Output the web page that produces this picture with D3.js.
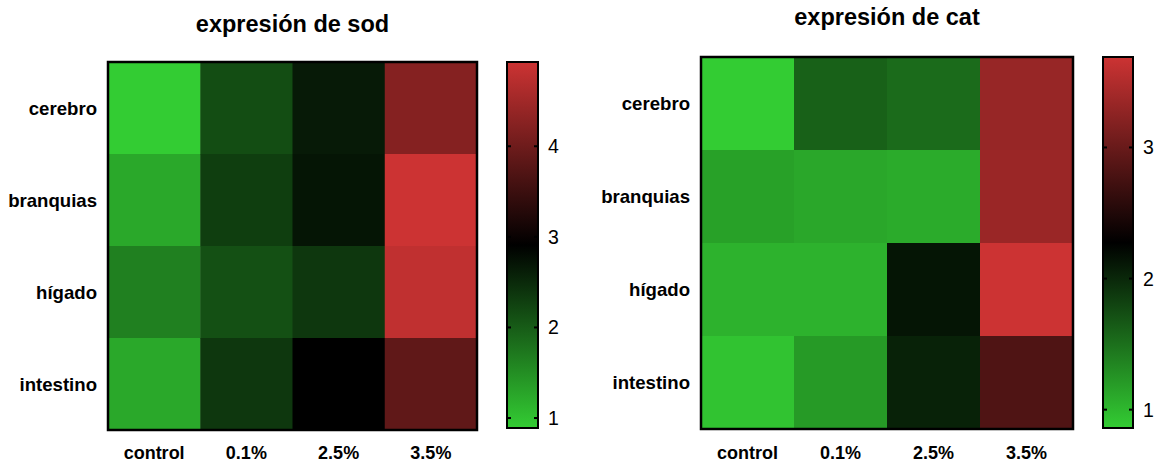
<!DOCTYPE html>
<html>
<head>
<meta charset="utf-8">
<script src="https://cdn.jsdelivr.net/npm/d3@7"></script>
<style>
  html, body { margin: 0; padding: 0; background: #fff; }
  svg { display: block; font-family: "Liberation Sans", Arial, Helvetica, sans-serif; }
</style>
</head>
<body>
<svg id="chart" width="1158" height="464"></svg>
<script>
// Treatments (columns) and tissues (rows)
const categories = ["control", "0.1%", "2.5%", "3.5%"];
const tissues = ["cerebro", "branquias", "hígado", "intestino"];

// Relative expression, one row per tissue
const sodValues = [
  [0.89, 2.15, 2.65, 4.23],
  [1.25, 2.30, 2.70, 4.93],
  [1.64, 2.12, 2.37, 4.81],
  [1.25, 2.37, 2.91, 3.86]
];
const catValues = [
  [0.86, 1.60, 1.53, 3.32],
  [1.16, 1.12, 1.09, 3.34],
  [1.04, 1.04, 2.13, 3.69],
  [0.92, 1.21, 2.04, 2.82]
];

const sodTicks = [1, 2, 3, 4];
const catTicks = [1, 2, 3];

const titles = ["expresión de sod", "expresión de cat"];

const svg = d3.select("#chart");

function drawPanel(opts) {
  const { values, ticks, title, box, bar, titleY } = opts;
  const g = svg.append("g");

  const flat = values.flat();
  const [vmin, vmax] = d3.extent(flat);
  const vmid = (vmin + vmax) / 2;
  const color = d3.scaleLinear()
    .domain([vmin, vmid, vmax])
    .range(["#33cc33", "#000000", "#cc3333"]);

  const x = d3.scaleBand().domain(categories).range([box.x0, box.x1]);
  const y = d3.scaleBand().domain(tissues).range([box.y0, box.y1]);

  const cells = [];
  tissues.forEach((t, i) => categories.forEach((c, j) => cells.push({ t, c, v: values[i][j] })));

  g.selectAll("rect.cell").data(cells).join("rect")
    .attr("class", "cell")
    .attr("x", d => x(d.c))
    .attr("y", d => y(d.t))
    .attr("width", x.bandwidth() + 0.5)
    .attr("height", y.bandwidth() + 0.5)
    .attr("fill", d => color(d.v));

  g.append("rect")
    .attr("x", box.x0).attr("y", box.y0)
    .attr("width", box.x1 - box.x0).attr("height", box.y1 - box.y0)
    .attr("fill", "none").attr("stroke", "#000").attr("stroke-width", 2.5);

  // Row labels
  g.selectAll("text.row").data(tissues).join("text")
    .attr("class", "row")
    .attr("x", box.x0 - 11)
    .attr("y", d => y(d) + y.bandwidth() / 2)
    .attr("text-anchor", "end")
    .attr("dominant-baseline", "central")
    .attr("font-size", 18.6).attr("font-weight", "bold")
    .text(d => d);

  // Column labels
  g.selectAll("text.col").data(categories).join("text")
    .attr("class", "col")
    .attr("x", d => x(d) + x.bandwidth() / 2)
    .attr("y", 459)
    .attr("text-anchor", "middle")
    .attr("font-size", 18).attr("font-weight", "bold")
    .text(d => d);

  // Title
  g.append("text")
    .attr("x", (box.x0 + box.x1) / 2)
    .attr("y", titleY)
    .attr("text-anchor", "middle")
    .attr("font-size", 23.5).attr("font-weight", "bold")
    .text(title);

  // Colour bar
  const cy = d3.scaleLinear().domain([vmin, vmax]).range([bar.y1, bar.y0]);
  const gradId = "grad-" + opts.id;
  const grad = svg.append("defs").append("linearGradient")
    .attr("id", gradId)
    .attr("x1", 0).attr("y1", 1).attr("x2", 0).attr("y2", 0);
  grad.selectAll("stop").data([vmin, vmid, vmax]).join("stop")
    .attr("offset", d => (d - vmin) / (vmax - vmin))
    .attr("stop-color", d => color(d));

  g.append("rect")
    .attr("x", bar.x0).attr("y", bar.y0)
    .attr("width", bar.x1 - bar.x0).attr("height", bar.y1 - bar.y0)
    .attr("fill", `url(#${gradId})`)
    .attr("stroke", "#000").attr("stroke-width", 2);

  const tk = g.selectAll("g.tick").data(ticks).join("g").attr("class", "tick")
    .attr("transform", d => `translate(0,${cy(d)})`);
  tk.append("line").attr("x1", bar.x0).attr("x2", bar.x0 + 4)
    .attr("stroke", "#000").attr("stroke-width", 2);
  tk.append("line").attr("x1", bar.x1 - 4).attr("x2", bar.x1)
    .attr("stroke", "#000").attr("stroke-width", 2);
  tk.append("text")
    .attr("x", bar.x1 + 10)
    .attr("dominant-baseline", "central")
    .attr("font-size", 19.5)
    .text(d => d);
}

drawPanel({
  id: "sod", values: sodValues, ticks: sodTicks, title: titles[0],
  box: { x0: 108, x1: 477, y0: 62, y1: 430 },
  bar: { x0: 507, x1: 538, y0: 62, y1: 428 },
  titleY: 32
});
drawPanel({
  id: "cat", values: catValues, ticks: catTicks, title: titles[1],
  box: { x0: 701, x1: 1073, y0: 57, y1: 429 },
  bar: { x0: 1103, x1: 1133, y0: 57, y1: 428 },
  titleY: 25
});
</script>
</body>
</html>
